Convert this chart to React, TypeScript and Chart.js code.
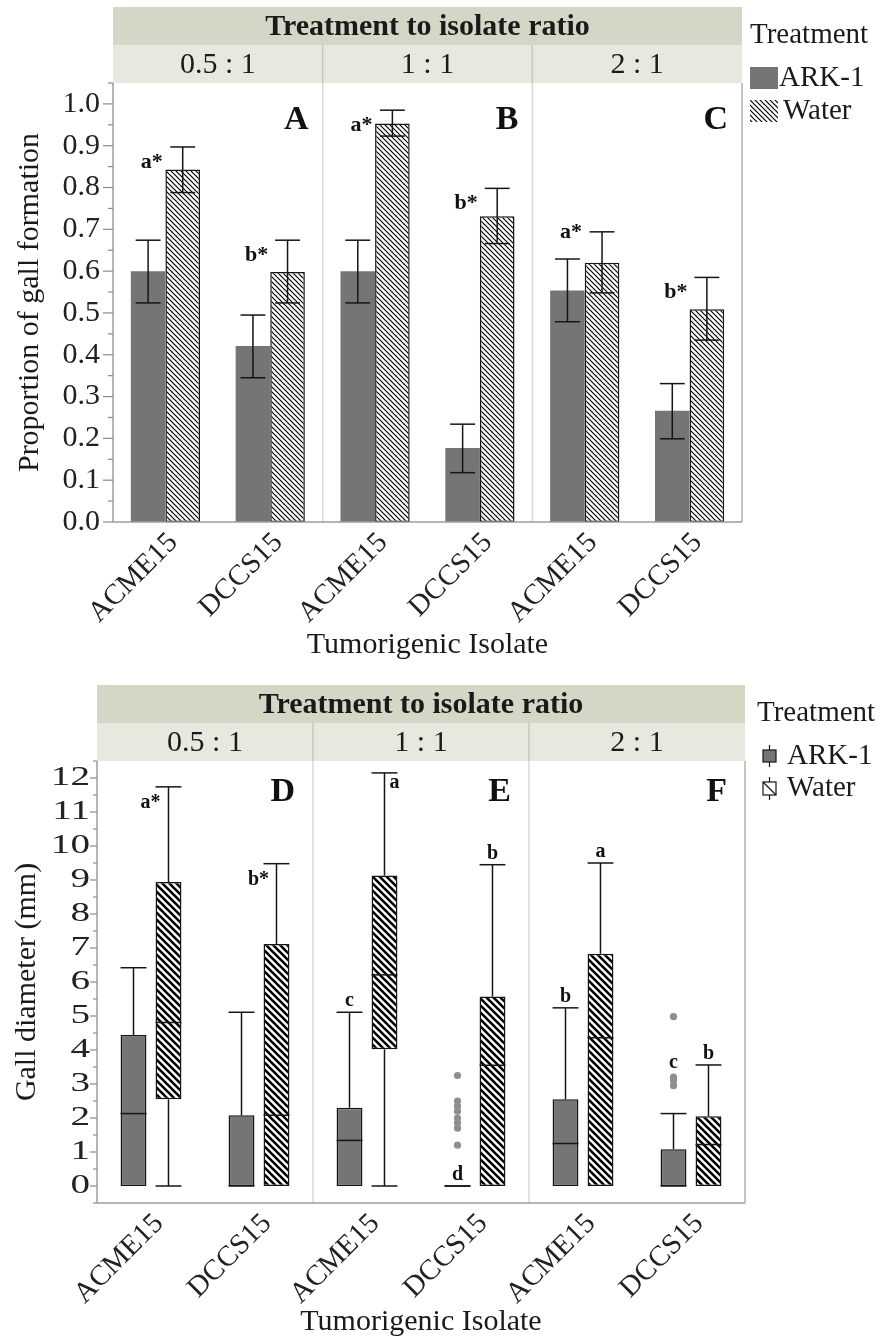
import React, { useEffect, useRef } from 'react';
import { Chart, registerables } from 'chart.js';

Chart.register(...registerables);

const FONT = '"Liberation Serif", "Times New Roman", serif';

// ---------- shared labels ----------
const isolates = ['ACME15', 'DCCS15', 'ACME15', 'DCCS15', 'ACME15', 'DCCS15'];
const ratioLabels = ['0.5 : 1', '1 : 1', '2 : 1'];
const headerTitle = 'Treatment to isolate ratio';
const treatmentNames = ['ARK-1', 'Water'];
const legendTitle = 'Treatment';
const xAxisTitle = 'Tumorigenic Isolate';

// ---------- top chart: proportion of gall formation ----------
const topYTitle = 'Proportion of gall formation';
const topPanelLetters = ['A', 'B', 'C'];
const arkMean = [0.6, 0.421, 0.6, 0.177, 0.554, 0.266];
const arkLower = [0.524, 0.345, 0.524, 0.118, 0.479, 0.199];
const arkUpper = [0.674, 0.495, 0.674, 0.234, 0.629, 0.331];
const waterMean = [0.843, 0.598, 0.953, 0.731, 0.62, 0.509];
const waterLower = [0.788, 0.524, 0.923, 0.666, 0.548, 0.435];
const waterUpper = [0.897, 0.674, 0.985, 0.798, 0.694, 0.585];
const waterPropLetters = ['a*', 'b*', 'a*', 'b*', 'a*', 'b*'];

// ---------- bottom chart: gall diameter (mm) ----------
const bottomYTitle = 'Gall diameter (mm)';
const bottomPanelLetters = ['D', 'E', 'F'];
const arkMin = [0, 0, 0, 0, 0, 0];
const arkQ1 = [0, 0, 0, 0, 0, 0];
const arkMedian = [2.13, 0, 1.34, 0, 1.25, 0];
const arkQ3 = [4.44, 2.08, 2.3, 0, 2.55, 1.08];
const arkMax = [6.42, 5.11, 5.11, 0, 5.24, 2.13];
const arkOutliers = [[], [], [], [3.25, 2.5, 2.35, 2.2, 2.0, 1.85, 1.7, 1.2], [], [4.98, 3.2, 3.1, 2.95]];
const waterMin = [0, 0, 0, 0, 0, 0];
const waterQ1 = [2.55, 0, 4.02, 0, 0, 0];
const waterMedian = [4.81, 2.08, 6.21, 3.55, 4.36, 1.22];
const waterQ3 = [8.94, 7.12, 9.13, 5.57, 6.83, 2.05];
const waterMax = [11.74, 9.48, 12.15, 9.45, 9.5, 3.56];
const arkDiamLetters = ['', '', 'c', 'd', 'b', 'c'];
const waterDiamLetters = ['a*', 'b*', 'a', 'b', 'a', 'b'];

// label placement (style only)
const arkDiamPlacement = ['above', 'above', 'above', 'above', 'above', 'outliers'];
const waterDiamPlacement = ['left', 'left', 'right', 'above', 'above', 'above'];

const ARK_COLOR = '#757575';
const INK = '#151515';

function makeHatch(period: number, lw: number) {
  const c = document.createElement('canvas');
  c.width = period;
  c.height = period;
  const g = c.getContext('2d')!;
  g.fillStyle = '#ffffff';
  g.fillRect(0, 0, period, period);
  g.strokeStyle = '#000000';
  g.lineWidth = lw;
  g.beginPath();
  g.moveTo(-period, -period); g.lineTo(2 * period, 2 * period);
  g.moveTo(-period, 0); g.lineTo(period, 2 * period);
  g.moveTo(0, -period); g.lineTo(2 * period, period);
  g.stroke();
  return g.createPattern(c, 'repeat')!;
}

function text(ctx: CanvasRenderingContext2D, str: string, x: number, y: number, font: string,
  align: CanvasTextAlign = 'center', rot = 0, sx = 1, color = '#1a1a1a') {
  ctx.save();
  ctx.translate(x, y);
  if (rot) ctx.rotate(rot);
  if (sx !== 1) ctx.scale(sx, 1);
  ctx.font = font;
  ctx.fillStyle = color;
  ctx.textAlign = align;
  ctx.textBaseline = 'middle';
  ctx.fillText(str, 0, 0);
  ctx.restore();
}

function line(ctx: CanvasRenderingContext2D, x1: number, y1: number, x2: number, y2: number) {
  ctx.beginPath();
  ctx.moveTo(x1, y1);
  ctx.lineTo(x2, y2);
  ctx.stroke();
}

type ChromeCfg = {
  headerTop: number;
  bandH: number;
  panelLetters: string[];
  letterDx: number;
  letterDy: number;
  yTitle: string;
  yTitleX: number;
  xTitleY: number;
  tickFont: string;
  tickScaleX: number;
  tickGap: number;
  majorLen: number;
  minorLen: number;
  step: number;
  fmt: (v: number) => string;
  legend: (ctx: CanvasRenderingContext2D) => void;
};

function panelEdges(chart: any) {
  const a = chart.chartArea;
  const xs = chart.scales.x;
  const p = (i: number) => xs.getPixelForValue(i);
  return [a.left, (p(1) + p(2)) / 2, (p(3) + p(4)) / 2, a.right];
}

function drawDividers(chart: any) {
  const { ctx, chartArea: a } = chart;
  const e = panelEdges(chart);
  ctx.save();
  ctx.strokeStyle = '#d9d9d9';
  ctx.lineWidth = 1.5;
  line(ctx, e[1], a.top, e[1], a.bottom);
  line(ctx, e[2], a.top, e[2], a.bottom);
  ctx.restore();
}

function drawChrome(chart: any, cfg: ChromeCfg) {
  const { ctx, chartArea: a } = chart;
  const ys = chart.scales.y;
  const xs = chart.scales.x;
  const e = panelEdges(chart);
  const w = a.right - a.left;
  ctx.save();
  // header bands
  ctx.fillStyle = '#d6d6c7';
  ctx.fillRect(a.left, cfg.headerTop, w, cfg.bandH);
  ctx.fillStyle = '#e8e8df';
  ctx.fillRect(a.left, cfg.headerTop + cfg.bandH, w, a.top - cfg.headerTop - cfg.bandH);
  ctx.strokeStyle = '#c8c8bc';
  ctx.lineWidth = 1.5;
  line(ctx, e[1], cfg.headerTop + cfg.bandH, e[1], a.top);
  line(ctx, e[2], cfg.headerTop + cfg.bandH, e[2], a.top);
  text(ctx, headerTitle, (a.left + a.right) / 2, cfg.headerTop + cfg.bandH / 2 + 1, `bold 30px ${FONT}`);
  for (let k = 0; k < 3; k++) {
    text(ctx, ratioLabels[k], (e[k] + e[k + 1]) / 2, cfg.headerTop + cfg.bandH * 1.5 + 1, `30px ${FONT}`);
  }
  // frame
  ctx.strokeStyle = '#9c9c9c';
  ctx.lineWidth = 1.5;
  line(ctx, a.left, a.top, a.left, a.bottom);
  line(ctx, a.left, a.bottom, a.right, a.bottom);
  ctx.strokeStyle = '#b0b0b0';
  line(ctx, a.right, a.top, a.right, a.bottom);
  // y ticks (major labelled, minor at half steps)
  ctx.strokeStyle = '#8a8a8a';
  ctx.lineWidth = 1.2;
  const half = cfg.step / 2;
  const k0 = Math.ceil(ys.min / half - 1e-6);
  const k1 = Math.floor(ys.max / half + 1e-6);
  for (let k = k0; k <= k1; k++) {
    const v = k * half;
    const y = ys.getPixelForValue(v);
    const isMajor = k % 2 === 0;
    line(ctx, a.left - (isMajor ? cfg.majorLen : cfg.minorLen), y, a.left, y);
    if (isMajor) {
      text(ctx, cfg.fmt(v), a.left - cfg.tickGap, y, cfg.tickFont, 'right', 0, cfg.tickScaleX, '#222');
    }
  }
  // x tick labels (rotated 45 degrees)
  const labels = chart.data.labels as string[];
  labels.forEach((lab, i) => {
    const x = xs.getPixelForValue(i);
    text(ctx, lab, x + 8, a.bottom + 16, `29px ${FONT}`, 'right', -Math.PI / 4, 1, '#222');
  });
  // panel letters
  for (let k = 0; k < 3; k++) {
    text(ctx, cfg.panelLetters[k], e[k + 1] - cfg.letterDx, a.top + cfg.letterDy, `bold 34px ${FONT}`, 'right', 0, 1, '#111');
  }
  // axis titles
  text(ctx, cfg.yTitle, cfg.yTitleX, (a.top + a.bottom) / 2, `30px ${FONT}`, 'center', -Math.PI / 2);
  text(ctx, xAxisTitle, (a.left + a.right) / 2, cfg.xTitleY, `30px ${FONT}`);
  cfg.legend(ctx);
  ctx.restore();
}

function TopChart() {
  const ref = useRef<HTMLCanvasElement>(null);
  useEffect(() => {
    const hatch = makeHatch(5, 1.2);
    const cfg: ChromeCfg = {
      headerTop: 7, bandH: 38, panelLetters: topPanelLetters, letterDx: 14, letterDy: 37,
      yTitle: topYTitle, yTitleX: 30, xTitleY: 645,
      tickFont: `30px ${FONT}`, tickScaleX: 1, tickGap: 13, majorLen: 10, minorLen: 5,
      step: 0.1, fmt: (v) => v.toFixed(1),
      legend: (ctx) => {
        text(ctx, legendTitle, 750, 35, `29px ${FONT}`, 'left');
        ctx.fillStyle = ARK_COLOR;
        ctx.fillRect(750, 67, 28, 22);
        text(ctx, treatmentNames[0], 779, 78, `29px ${FONT}`, 'left');
        ctx.fillStyle = hatch;
        ctx.fillRect(750, 100, 28, 22);
        text(ctx, treatmentNames[1], 783, 111, `29px ${FONT}`, 'left');
      },
    };
    const deco = {
      id: 'topDeco',
      beforeDatasetsDraw(chart: any) { drawDividers(chart); },
      afterDatasetsDraw(chart: any) {
        const { ctx } = chart;
        const ys = chart.scales.y;
        const sets = [[arkLower, arkUpper], [waterLower, waterUpper]];
        ctx.save();
        ctx.strokeStyle = INK;
        ctx.lineWidth = 1.5;
        for (let d = 0; d < 2; d++) {
          const meta = chart.getDatasetMeta(d);
          meta.data.forEach((el: any, i: number) => {
            const yl = ys.getPixelForValue(sets[d][0][i]);
            const yu = ys.getPixelForValue(sets[d][1][i]);
            const hw = el.width * 0.36;
            line(ctx, el.x, yl, el.x, yu);
            line(ctx, el.x - hw, yu, el.x + hw, yu);
            line(ctx, el.x - hw, yl, el.x + hw, yl);
          });
        }
        const wMeta = chart.getDatasetMeta(1);
        wMeta.data.forEach((el: any, i: number) => {
          const wc = ys.getPixelForValue(waterUpper[i]);
          const ac = ys.getPixelForValue(arkUpper[i]);
          const y = Math.min(wc + 15, ac - 27);
          text(ctx, waterPropLetters[i], el.x - 31, y, `bold 22px ${FONT}`, 'center', 0, 1, '#111');
        });
        ctx.restore();
      },
      afterDraw(chart: any) { drawChrome(chart, cfg); },
    };
    const chart = new Chart(ref.current!, {
      type: 'bar',
      data: {
        labels: isolates,
        datasets: [
          { label: treatmentNames[0], data: arkMean, backgroundColor: ARK_COLOR, borderWidth: 0, categoryPercentage: 0.66, barPercentage: 1 },
          { label: treatmentNames[1], data: waterMean, backgroundColor: hatch, borderColor: INK, borderWidth: 1.5, borderSkipped: false, categoryPercentage: 0.66, barPercentage: 1 },
        ],
      },
      options: {
        animation: false,
        responsive: false,
        maintainAspectRatio: false,
        layout: { padding: { left: 0, right: 138, top: 83, bottom: 0 } },
        plugins: { legend: { display: false }, tooltip: { enabled: false } },
        scales: {
          x: {
            grid: { display: false, drawTicks: false },
            border: { display: false },
            ticks: { display: false, autoSkip: false },
            afterFit: (s: any) => { s.height = 143; },
          },
          y: {
            min: 0, max: 1.05,
            ticks: { display: false, stepSize: 0.1 },
            grid: { display: false, drawTicks: false },
            border: { display: false },
            afterFit: (s: any) => { s.width = 113; },
          },
        },
      } as any,
      plugins: [deco],
    });
    return () => chart.destroy();
  }, []);
  return <canvas ref={ref} width={880} height={665} style={{ display: 'block', width: 880, height: 665 }} />;
}

function BottomChart() {
  const ref = useRef<HTMLCanvasElement>(null);
  useEffect(() => {
    const hatch = makeHatch(7, 2.6);
    const cfg: ChromeCfg = {
      headerTop: 20, bandH: 38, panelLetters: bottomPanelLetters, letterDx: 18, letterDy: 31,
      yTitle: bottomYTitle, yTitleX: 27, xTitleY: 657,
      tickFont: `27px ${FONT}`, tickScaleX: 1.45, tickGap: 7, majorLen: 7, minorLen: 4,
      step: 1, fmt: (v) => String(Math.round(v)),
      legend: (ctx) => {
        text(ctx, legendTitle, 757, 48, `29px ${FONT}`, 'left');
        ctx.strokeStyle = INK;
        ctx.lineWidth = 1.2;
        line(ctx, 769.5, 80, 769.5, 102);
        ctx.fillStyle = ARK_COLOR;
        ctx.fillRect(763, 85, 13, 12);
        ctx.strokeRect(763, 85, 13, 12);
        text(ctx, treatmentNames[0], 787, 91, `29px ${FONT}`, 'left');
        line(ctx, 769.5, 112, 769.5, 135);
        ctx.fillStyle = '#fff';
        ctx.fillRect(763, 117, 13, 13);
        ctx.strokeRect(763, 117, 13, 13);
        line(ctx, 763, 117, 776, 130);
        text(ctx, treatmentNames[1], 787, 123, `29px ${FONT}`, 'left');
      },
    };
    const deco = {
      id: 'bottomDeco',
      beforeDatasetsDraw(chart: any) { drawDividers(chart); },
      afterDatasetsDraw(chart: any) {
        const { ctx } = chart;
        const ys = chart.scales.y;
        const stats = [
          { mn: arkMin, q1: arkQ1, md: arkMedian, q3: arkQ3, mx: arkMax, lab: arkDiamLetters, pl: arkDiamPlacement },
          { mn: waterMin, q1: waterQ1, md: waterMedian, q3: waterQ3, mx: waterMax, lab: waterDiamLetters, pl: waterDiamPlacement },
        ];
        ctx.save();
        ctx.strokeStyle = INK;
        ctx.lineWidth = 1.5;
        for (let d = 0; d < 2; d++) {
          const s = stats[d];
          const meta = chart.getDatasetMeta(d);
          meta.data.forEach((el: any, i: number) => {
            const x = el.x;
            const hw = el.width / 2;
            const yMed = ys.getPixelForValue(s.md[i]);
            const yQ1 = ys.getPixelForValue(s.q1[i]);
            const yQ3 = ys.getPixelForValue(s.q3[i]);
            const yMax = ys.getPixelForValue(s.mx[i]);
            const yMin = ys.getPixelForValue(s.mn[i]);
            line(ctx, x - hw, yMed, x + hw, yMed);
            if (s.mx[i] > s.q3[i]) line(ctx, x, yQ3, x, yMax);
            line(ctx, x - hw, yMax, x + hw, yMax);
            if (s.mn[i] < s.q1[i]) {
              line(ctx, x, yQ1, x, yMin);
              line(ctx, x - hw, yMin, x + hw, yMin);
            }
            if (d === 0) {
              ctx.fillStyle = '#8e8e8e';
              for (const v of arkOutliers[i]) {
                ctx.beginPath();
                ctx.arc(x, ys.getPixelForValue(v), 3.6, 0, Math.PI * 2);
                ctx.fill();
              }
            }
            const lab = s.lab[i];
            if (lab) {
              const f = `bold 20px ${FONT}`;
              const pl = s.pl[i];
              if (pl === 'left') text(ctx, lab, x - 18, yMax + 16, f, 'center', 0, 1, '#111');
              else if (pl === 'right') text(ctx, lab, x + 10, yMax + 10, f, 'center', 0, 1, '#111');
              else if (pl === 'outliers') {
                const sorted = [...arkOutliers[i]].sort((p, q) => q - p);
                text(ctx, lab, x, ys.getPixelForValue(sorted[1]) - 14, f, 'center', 0, 1, '#111');
              } else text(ctx, lab, x, yMax - 11, f, 'center', 0, 1, '#111');
            }
          });
        }
        ctx.restore();
      },
      afterDraw(chart: any) { drawChrome(chart, cfg); },
    };
    const chart = new Chart(ref.current!, {
      type: 'bar',
      data: {
        labels: isolates,
        datasets: [
          {
            label: treatmentNames[0], data: arkQ1.map((q, i) => [q, arkQ3[i]]),
            backgroundColor: ARK_COLOR, borderColor: INK, borderWidth: 1.5, borderSkipped: false,
            categoryPercentage: 0.648, barPercentage: 0.74,
          },
          {
            label: treatmentNames[1], data: waterQ1.map((q, i) => [q, waterQ3[i]]),
            backgroundColor: hatch, borderColor: INK, borderWidth: 1.5, borderSkipped: false,
            categoryPercentage: 0.648, barPercentage: 0.74,
          },
        ],
      },
      options: {
        animation: false,
        responsive: false,
        maintainAspectRatio: false,
        layout: { padding: { left: 0, right: 135, top: 96, bottom: 0 } },
        plugins: { legend: { display: false }, tooltip: { enabled: false } },
        scales: {
          x: {
            grid: { display: false, drawTicks: false },
            border: { display: false },
            ticks: { display: false, autoSkip: false },
            afterFit: (s: any) => { s.height = 134; },
          },
          y: {
            min: -0.5, max: 12.5,
            ticks: { display: false, stepSize: 1 },
            grid: { display: false, drawTicks: false },
            border: { display: false },
            afterFit: (s: any) => { s.width = 97; },
          },
        },
      } as any,
      plugins: [deco],
    });
    return () => chart.destroy();
  }, []);
  return <canvas ref={ref} width={880} height={672} style={{ display: 'block', width: 880, height: 672 }} />;
}

export default function App() {
  return (
    <div style={{ position: 'absolute', left: 0, top: 0, width: 880, height: 1337, background: '#fff', overflow: 'hidden' }}>
      <div style={{ position: 'absolute', left: 0, top: 0 }}>
        <TopChart />
      </div>
      <div style={{ position: 'absolute', left: 0, top: 665 }}>
        <BottomChart />
      </div>
    </div>
  );
}
